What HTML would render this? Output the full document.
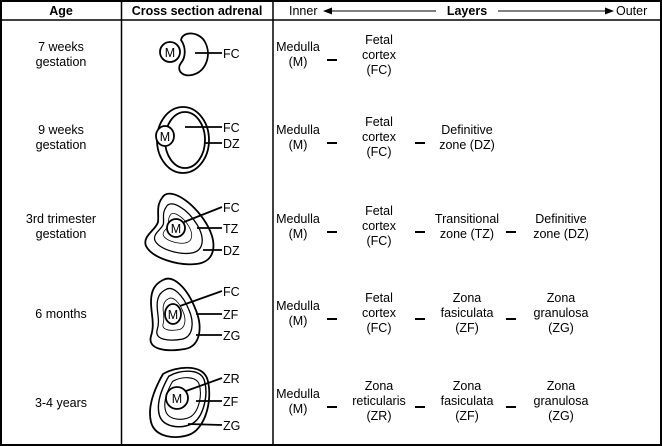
<!DOCTYPE html>
<html><head><meta charset="utf-8"><style>
html,body{margin:0;padding:0;background:#fff}
svg{display:block}
text{font-family:"Liberation Sans",Arial,sans-serif;font-size:12.5px;fill:#000}
.b{font-weight:bold}
</style></head><body>
<svg width="662" height="446" viewBox="0 0 662 446" xmlns="http://www.w3.org/2000/svg">
<rect x="1" y="1" width="660" height="444" fill="none" stroke="#000" stroke-width="2"/>
<line x1="0" y1="20" x2="662" y2="20" stroke="#000" stroke-width="1.5"/>
<line x1="121.5" y1="0" x2="121.5" y2="446" stroke="#000" stroke-width="1.5"/>
<line x1="273" y1="0" x2="273" y2="446" stroke="#000" stroke-width="1.5"/>
<g text-anchor="middle">
<text x="61" y="15" class="b">Age</text>
<text x="197" y="15" class="b">Cross section adrenal</text>
<text x="467" y="15" class="b">Layers</text>
</g>
<text x="289" y="15">Inner</text>
<text x="616" y="15">Outer</text>
<line x1="332" y1="11" x2="436" y2="11" stroke="#000"/>
<path d="M323,11 l9,-3.5 v7 z" fill="#000"/>
<line x1="498" y1="11" x2="605" y2="11" stroke="#000"/>
<path d="M614,11 l-9,-3.5 v7 z" fill="#000"/>

<g text-anchor="middle">
<text x="61" y="51">7 weeks</text><text x="61" y="66">gestation</text>
<text x="61" y="134">9 weeks</text><text x="61" y="149">gestation</text>
<text x="61" y="223">3rd trimester</text><text x="61" y="238">gestation</text>
<text x="61" y="318">6 months</text>
<text x="61" y="407">3-4 years</text>

<text x="298" y="51">Medulla</text><text x="298" y="66">(M)</text>
<text x="379" y="44">Fetal</text><text x="379" y="59">cortex</text><text x="379" y="74">(FC)</text>

<text x="298" y="134">Medulla</text><text x="298" y="149">(M)</text>
<text x="379" y="126">Fetal</text><text x="379" y="141">cortex</text><text x="379" y="156">(FC)</text>
<text x="467" y="134">Definitive</text><text x="467" y="149">zone (DZ)</text>

<text x="298" y="223">Medulla</text><text x="298" y="238">(M)</text>
<text x="379" y="215">Fetal</text><text x="379" y="230">cortex</text><text x="379" y="245">(FC)</text>
<text x="467" y="223">Transitional</text><text x="467" y="238">zone (TZ)</text>
<text x="561" y="223">Definitive</text><text x="561" y="238">zone (DZ)</text>

<text x="298" y="310">Medulla</text><text x="298" y="325">(M)</text>
<text x="379" y="302">Fetal</text><text x="379" y="317">cortex</text><text x="379" y="332">(FC)</text>
<text x="467" y="302">Zona</text><text x="467" y="317">fasiculata</text><text x="467" y="332">(ZF)</text>
<text x="561" y="302">Zona</text><text x="561" y="317">granulosa</text><text x="561" y="332">(ZG)</text>

<text x="298" y="398">Medulla</text><text x="298" y="413">(M)</text>
<text x="379" y="390">Zona</text><text x="379" y="405">reticularis</text><text x="379" y="420">(ZR)</text>
<text x="467" y="390">Zona</text><text x="467" y="405">fasiculata</text><text x="467" y="420">(ZF)</text>
<text x="561" y="390">Zona</text><text x="561" y="405">granulosa</text><text x="561" y="420">(ZG)</text>
</g>
<g stroke="#000" stroke-width="2">
<line x1="327" y1="60" x2="337" y2="60"/>
<line x1="327" y1="143" x2="337" y2="143"/><line x1="415" y1="143" x2="425" y2="143"/>
<line x1="327" y1="232" x2="337" y2="232"/><line x1="415" y1="232" x2="425" y2="232"/><line x1="506" y1="232" x2="516" y2="232"/>
<line x1="327" y1="319" x2="337" y2="319"/><line x1="415" y1="319" x2="425" y2="319"/><line x1="506" y1="319" x2="516" y2="319"/>
<line x1="327" y1="407" x2="337" y2="407"/><line x1="415" y1="407" x2="425" y2="407"/><line x1="506" y1="407" x2="516" y2="407"/>
</g>

<g fill="none" stroke="#000" stroke-width="1.8">
<path d="M181,40 C183,30 200,32 205,42 C212,55 206,72 192,75 C182,77 176,70 181,63 C186,57 186,47 181,40 Z" fill="#fff"/>
<circle cx="170" cy="52" r="10" fill="#fff"/>
<line x1="195" y1="53" x2="222" y2="53"/>

<ellipse cx="183" cy="140" rx="26" ry="33"/>
<ellipse cx="185" cy="140" rx="20" ry="28"/>
<ellipse cx="165" cy="136" rx="9" ry="10" fill="#fff"/>
<line x1="185" y1="127" x2="222" y2="127"/>
<line x1="204" y1="143" x2="222" y2="143"/>

<g transform="translate(176,228)">
<path d="M-14,-30 C-8,-42 16,-28 30,-5 C42,15 40,34 20,36 C2,38 -24,30 -30,18 C-34,8 -20,2 -18,-6 C-17,-14 -20,-22 -14,-30 Z"/>
<path d="M-14,-30 C-8,-42 16,-28 30,-5 C42,15 40,34 20,36 C2,38 -24,30 -30,18 C-34,8 -20,2 -18,-6 C-17,-14 -20,-22 -14,-30 Z" transform="scale(0.7)"/>
<path d="M-14,-30 C-8,-42 16,-28 30,-5 C42,15 40,34 20,36 C2,38 -24,30 -30,18 C-34,8 -20,2 -18,-6 C-17,-14 -20,-22 -14,-30 Z" transform="scale(0.42)"/>
</g>
<circle cx="176" cy="228" r="9" fill="#fff"/>
<line x1="184" y1="222" x2="222" y2="207"/>
<line x1="197" y1="228" x2="222" y2="228"/>
<line x1="203" y1="250" x2="222" y2="250"/>

<g transform="translate(173,314)">
<path d="M-10,-34 C0,-40 14,-26 22,-6 C30,12 28,32 12,35 C-6,38 -26,36 -22,22 C-18,10 -22,0 -22,-12 C-22,-24 -18,-30 -10,-34 Z"/>
<path d="M-10,-34 C0,-40 14,-26 22,-6 C30,12 28,32 12,35 C-6,38 -26,36 -22,22 C-18,10 -22,0 -22,-12 C-22,-24 -18,-30 -10,-34 Z" transform="scale(0.72)"/>
<path d="M-10,-34 C0,-40 14,-26 22,-6 C30,12 28,32 12,35 C-6,38 -26,36 -22,22 C-18,10 -22,0 -22,-12 C-22,-24 -18,-30 -10,-34 Z" transform="scale(0.45)"/>
</g>
<ellipse cx="173" cy="314" rx="8" ry="10" fill="#fff"/>
<line x1="180" y1="306" x2="222" y2="291"/>
<line x1="196" y1="314" x2="222" y2="314"/>
<line x1="196" y1="335" x2="222" y2="335"/>

<g transform="translate(177,400)">
<path d="M-14,-26 C0,-34 24,-36 30,-22 C36,-4 30,26 14,34 C0,40 -22,38 -26,22 C-30,6 -22,-12 -14,-26 Z"/>
<path d="M-14,-26 C0,-34 24,-36 30,-22 C36,-4 30,26 14,34 C0,40 -22,38 -26,22 C-30,6 -22,-12 -14,-26 Z" transform="translate(3,-3) scale(0.8)"/>
<path d="M-14,-26 C0,-34 24,-36 30,-22 C36,-4 30,26 14,34 C0,40 -22,38 -26,22 C-30,6 -22,-12 -14,-26 Z" transform="translate(4,-3) scale(0.6)"/>
</g>
<circle cx="177" cy="398" r="11" fill="#fff"/>
<line x1="186" y1="391" x2="222" y2="378"/>
<line x1="196" y1="401" x2="222" y2="401"/>
<line x1="188" y1="424" x2="222" y2="425"/>
</g>
<g>
<text x="170" y="57" text-anchor="middle">M</text>
<text x="165" y="141" text-anchor="middle">M</text>
<text x="176" y="233" text-anchor="middle">M</text>
<text x="173" y="319" text-anchor="middle">M</text>
<text x="177" y="403" text-anchor="middle">M</text>
<text x="223" y="58">FC</text>
<text x="223" y="132">FC</text><text x="223" y="148">DZ</text>
<text x="223" y="212">FC</text><text x="223" y="233">TZ</text><text x="223" y="255">DZ</text>
<text x="223" y="296">FC</text><text x="223" y="319">ZF</text><text x="223" y="340">ZG</text>
<text x="223" y="383">ZR</text><text x="223" y="406">ZF</text><text x="223" y="430">ZG</text>
</g>
</svg>
</body></html>
